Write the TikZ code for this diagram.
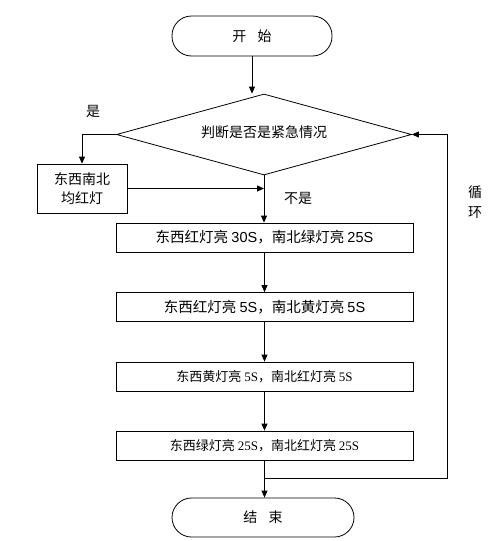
\documentclass[tikz,border=0pt]{standalone}
\usepackage{fontspec}
\setmainfont{Liberation Serif}
\newfontfamily\cjk{Noto Sans CJK SC}
\newfontfamily\numsans{Liberation Sans}
\usetikzlibrary{shapes.geometric,arrows.meta}

\begin{document}
\begin{tikzpicture}[x=1pt,y=-1pt, line width=0.8pt,
        every node/.style={font=\cjk\fontsize{14}{19}\selectfont},
        box/.style={draw, minimum width=297pt, minimum height=29pt, inner sep=0pt},
        term/.style={draw, rounded corners=19.5pt, minimum height=40pt, inner sep=0pt},
        arr/.style={-{Triangle[length=7pt,width=6pt]}}]
        \useasboundingbox (0,0) rectangle (495,541);
        % terminals and decision
        \node[term, minimum width=160pt] (start) at (252,36) {开\hspace{0.8em}始};
        \node[draw, diamond, aspect=3.64, minimum width=295pt, minimum height=81pt, inner sep=0pt] (check) at (264,134.5) {\raisebox{5pt}{判断是否是紧急情况}};
        \node[draw, minimum width=90pt, minimum height=49pt, inner sep=0pt, align=center] (allred) at (82,188.5) {东西南北\\均红灯};
        % the four phases
        \node[box, font=\cjk\fontsize{14.5}{17}\selectfont] (phaseA) at (264.5,237.5) {东西红灯亮 {\numsans 30S}，南北绿灯亮 {\numsans 25S}};
        \node[box, font=\cjk\fontsize{14.5}{17}\selectfont] (phaseB) at (264.5,307) {东西红灯亮 {\numsans 5S}，南北黄灯亮 {\numsans 5S}};
        \node[box, font=\cjk\fontsize{13}{15}\selectfont] (phaseC) at (264.5,376.5) {东西黄灯亮 {\rmfamily 5S}，南北红灯亮 {\rmfamily 5S}};
        \node[box, font=\cjk\fontsize{13}{15}\selectfont] (phaseD) at (264.5,445.5) {东西绿灯亮 {\rmfamily 25S}，南北红灯亮 {\rmfamily 25S}};
        \node[term, minimum width=182pt, minimum height=39pt] (stop) at (263,517.5) {结\hspace{0.8em}束};
        % labels
        \node (yes) at (93,111) {是};
        \node (no) at (298,198) {不是};
        \node[align=center, font=\cjk\fontsize{14}{20}\selectfont] (cycle) at (475,202) {循\\环};
        % connectors
        \draw[arr] (start.south) -- (start.south |- check.north);
        \draw[arr] (check.west) -| (allred.north);
        \coordinate (merge) at (check.south |- allred.east);
        \draw[arr] (allred.east) -- (merge);
        \draw[arr] (check.south) -- (check.south |- phaseA.north);
        \draw[arr] (phaseA) -- (phaseB);
        \draw[arr] (phaseB) -- (phaseC);
        \draw[arr] (phaseC) -- (phaseD);
        \draw[arr] (phaseD.south) -- (phaseD.south |- stop.north);
        \coordinate (back) at (phaseD.south |- 0,478);
        \coordinate (corner) at (447,478);
        \draw[arr] (back) -- (corner) |- (check.east);
\end{tikzpicture}
\end{document}
